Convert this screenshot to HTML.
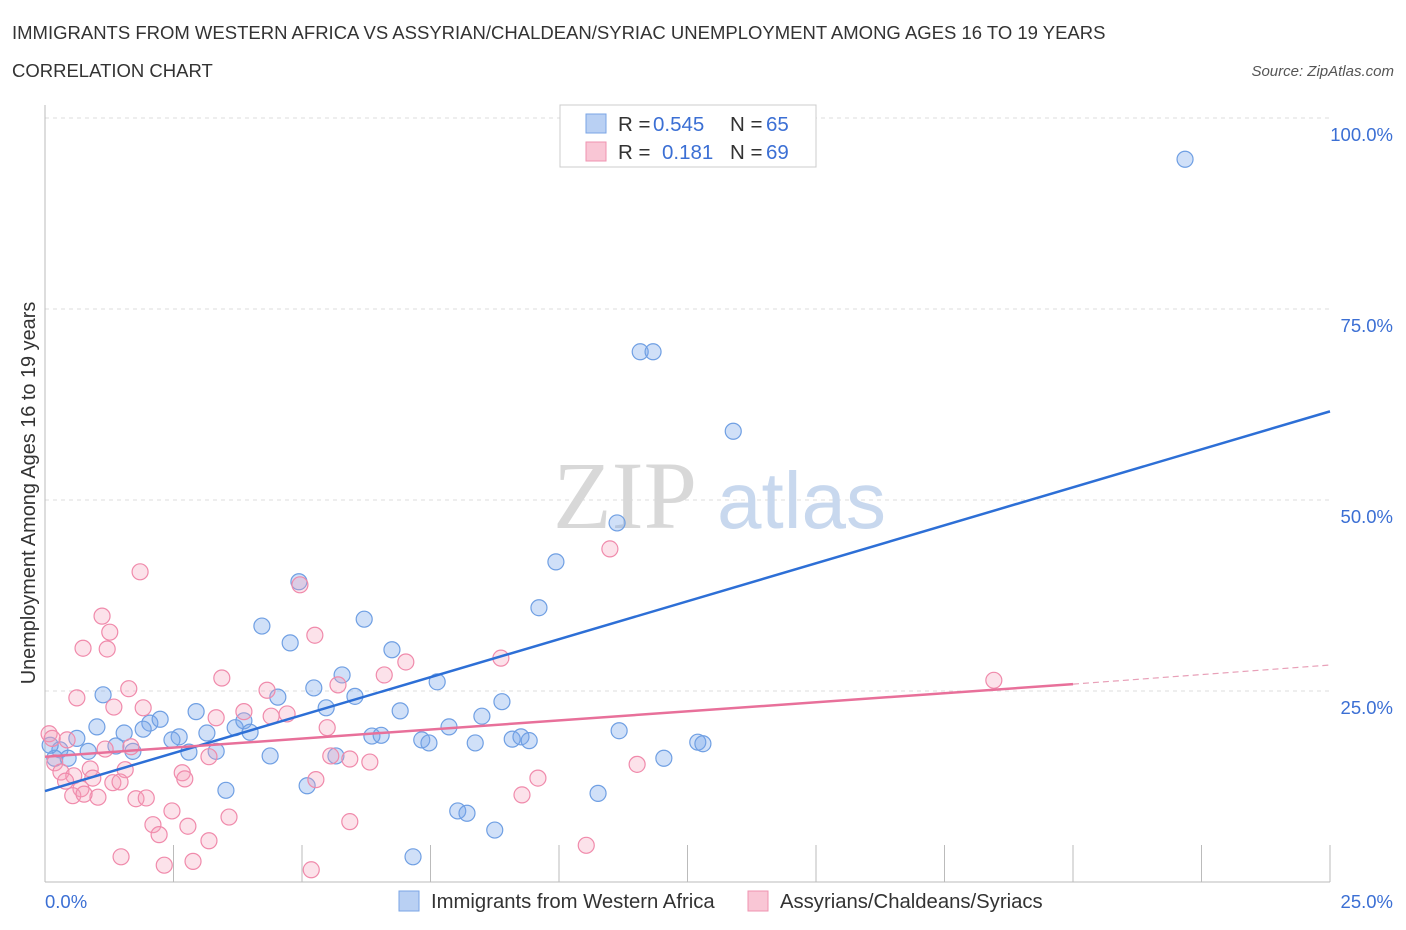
<!DOCTYPE html>
<html><head><meta charset="utf-8">
<style>
body{margin:0;background:#fff;font-family:"Liberation Sans",sans-serif;}
svg{display:block}
</style></head>
<body>
<svg width="1406" height="930" xmlns="http://www.w3.org/2000/svg">
<text x="12" y="39" font-size="18.5" fill="#333">IMMIGRANTS FROM WESTERN AFRICA VS ASSYRIAN/CHALDEAN/SYRIAC UNEMPLOYMENT AMONG AGES 16 TO 19 YEARS</text>
<text x="12" y="77" font-size="18.5" fill="#333">CORRELATION CHART</text>
<text x="1394" y="76" font-size="15" fill="#555" font-style="italic" text-anchor="end">Source: ZipAtlas.com</text>
<g id="grid"></g>
<g>
<text x="553" y="528" font-size="96" font-family="Liberation Serif,serif" fill="#d8d8d8">ZIP</text>
<text x="717" y="528" font-size="80" fill="#c8d8ee">atlas</text>
</g>
<g id="axes"></g>
<g id="pts"></g>
<g id="lines"></g>
<text x="35" y="493" font-size="19.9" fill="#333" text-anchor="middle" transform="rotate(-90 35 493)">Unemployment Among Ages 16 to 19 years</text>
<g>
<rect x="560" y="105" width="256" height="62" fill="#fff" stroke="#ccc"/>
<rect x="586" y="114" width="20" height="19" fill="#b9d0f3" stroke="#7aa4e6"/>
<rect x="586" y="142" width="20" height="19" fill="#f9c6d5" stroke="#ef93b0"/>
<text x="618" y="131" font-size="20.5" fill="#333">R = <tspan x="653" fill="#3b6fd4">0.545</tspan><tspan x="730">N = </tspan><tspan x="766" fill="#3b6fd4">65</tspan></text>
<text x="618" y="159" font-size="20.5" fill="#333">R = <tspan x="662" fill="#3b6fd4">0.181</tspan><tspan x="730">N = </tspan><tspan x="766" fill="#3b6fd4">69</tspan></text>
</g>
<g>
<rect x="399" y="891" width="20" height="20" fill="#b9d0f3" stroke="#7aa4e6"/>
<text x="431" y="908" font-size="20.3" fill="#333">Immigrants from Western Africa</text>
<rect x="748" y="891" width="20" height="20" fill="#f9c6d5" stroke="#ef93b0"/>
<text x="780" y="908" font-size="20.3" fill="#333">Assyrians/Chaldeans/Syriacs</text>
</g>
</svg>
<script>
const blueX=[22.18,11.58,11.83,13.39,11.13,9.94,9.61,4.94,4.22,4.77,6.21,6.75,5.78,5.23,7.63,8.89,8.50,6.91,6.03,5.47,4.53,1.13,1.01,1.54,2.04,2.24,1.91,2.94,3.15,2.61,2.47,2.80,3.33,3.70,3.87,3.99,4.38,3.52,5.10,5.66,6.36,6.54,7.33,7.47,7.86,8.37,9.09,9.26,9.42,8.03,8.21,8.75,7.16,10.76,11.17,12.04,12.70,12.80,1.38,1.71,0.84,0.62,0.29,0.19,0.45,0.10];
const blueY=[94.6,69.4,69.4,59.0,47.0,41.9,35.9,39.3,33.5,31.3,34.4,30.4,27.1,25.4,26.2,23.6,21.7,22.4,24.3,22.8,24.2,24.5,20.3,19.5,20.8,21.3,20.0,22.3,19.5,19.0,18.6,17.0,17.1,20.2,21.1,19.6,16.5,12.0,12.6,16.5,19.1,19.2,18.6,18.2,20.3,18.2,18.7,19.0,18.5,9.3,9.0,6.8,3.3,11.6,19.8,16.2,18.3,18.1,17.8,17.1,17.1,18.8,17.3,16.2,16.2,17.9];
const pinkX=[1.85,1.11,1.26,0.74,1.21,4.96,5.25,10.99,8.87,7.02,6.60,5.70,4.32,3.44,1.63,0.62,1.34,1.91,3.87,4.40,4.71,3.33,5.49,5.56,5.93,6.32,3.19,0.08,0.14,0.43,1.17,1.67,0.19,0.31,0.56,0.88,0.93,1.56,0.40,0.70,1.32,1.46,2.67,2.72,0.54,1.03,0.76,1.77,1.97,2.47,3.58,2.78,2.10,2.22,5.93,3.19,1.48,2.32,2.88,5.18,5.27,9.59,9.28,11.52,10.53,18.46];
const pinkY=[40.6,34.8,32.7,30.6,30.5,38.9,32.3,43.6,29.3,28.8,27.1,25.8,25.1,26.7,25.3,24.1,22.9,22.8,22.3,21.7,22.0,21.5,20.2,16.5,16.1,15.7,16.4,19.4,18.8,18.6,17.4,17.7,15.6,14.4,13.9,14.8,13.6,14.7,13.2,12.2,13.0,13.1,14.3,13.5,11.3,11.1,11.5,10.9,11.0,9.3,8.5,7.3,7.5,6.2,7.9,5.4,3.3,2.2,2.7,1.6,13.4,13.6,11.4,15.4,4.8,26.4];
const blueTrendX=[0,25], blueTrendY=[11.9,61.6];
const pinkTrendX=[0,20,25], pinkTrendY=[16.4,25.9,28.4];
const yTicks=[25,50,75,100], yTickLabels=["25.0%","50.0%","75.0%","100.0%"];
const xTicks=[0,2.5,5,7.5,10,12.5,15,17.5,20,22.5,25];
const NS="http://www.w3.org/2000/svg";
const sx=v=>45+v/25*1285, sy=v=>882-v/100*764;
function mk(tag,attrs,parent){const e=document.createElementNS(NS,tag);for(const k in attrs)e.setAttribute(k,attrs[k]);parent.appendChild(e);return e;}
const grid=document.getElementById('grid'),axes=document.getElementById('axes'),pts=document.getElementById('pts'),lines=document.getElementById('lines');
yTicks.forEach((t,i)=>{
 const l=mk('line',{x1:45,x2:1330,y1:sy(t),y2:sy(t),stroke:'#ddd','stroke-dasharray':'4 4'},grid);
 
 
 const tx=mk('text',{x:1393,y:sy(t)+23,'font-size':18.5,fill:'#3b6fd4','text-anchor':'end'},axes);
 tx.textContent=yTickLabels[i];
 
 
});
const ax=mk('line',{x1:45,x2:1330,y1:882,y2:882,stroke:'#bbb'},axes);


const ay=mk('line',{x1:45,x2:45,y1:105,y2:882,stroke:'#bbb'},axes);


xTicks.forEach(t=>{
 const l=mk('line',{x1:sx(t),x2:sx(t),y1:845,y2:882,stroke:'#bbb'},axes);
 
 
});
const xl0=mk('text',{x:45,y:908,'font-size':18.5,fill:'#3b6fd4'},axes);xl0.textContent='0.0%';


const xl1=mk('text',{x:1393,y:908,'font-size':18.5,fill:'#3b6fd4','text-anchor':'end'},axes);xl1.textContent='25.0%';


blueX.forEach((x,i)=>{
 const c=mk('circle',{cx:sx(x),cy:sy(blueY[i]),r:8,fill:'rgba(120,165,235,0.35)',stroke:'#6f9fe3','stroke-width':1.2},pts);
 
 
});
pinkX.forEach((x,i)=>{
 const c=mk('circle',{cx:sx(x),cy:sy(pinkY[i]),r:8,fill:'rgba(245,160,185,0.3)',stroke:'#f08aab','stroke-width':1.2},pts);
 
 
});
const bl=mk('line',{x1:sx(blueTrendX[0]),y1:sy(blueTrendY[0]),x2:sx(blueTrendX[1]),y2:sy(blueTrendY[1]),stroke:'#2d6fd6','stroke-width':2.5},lines);


const pl=mk('line',{x1:sx(pinkTrendX[0]),y1:sy(pinkTrendY[0]),x2:sx(pinkTrendX[1]),y2:sy(pinkTrendY[1]),stroke:'#e8709a','stroke-width':2.5},lines);


const pd=mk('line',{x1:sx(pinkTrendX[1]),y1:sy(pinkTrendY[1]),x2:sx(pinkTrendX[2]),y2:sy(pinkTrendY[2]),stroke:'#e8a0b8','stroke-width':1.2,'stroke-dasharray':'6 4'},lines);


</script>
</body></html>
